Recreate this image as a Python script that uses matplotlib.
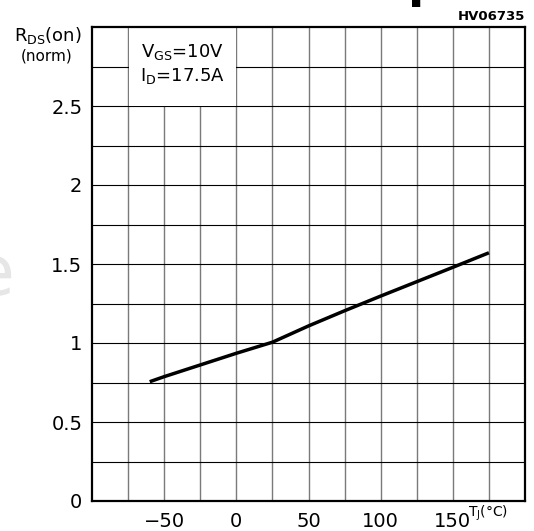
import matplotlib
matplotlib.use('Agg')
import matplotlib.pyplot as plt
from matplotlib.patches import Rectangle

# data
temps = [-60, -50, -25, 0, 25, 50, 75, 100, 125, 150, 175]
rds_norm = [0.755, 0.787, 0.861, 0.935, 1.005, 1.108, 1.204, 1.297, 1.388, 1.479, 1.571]

x_ticks = [-50, 0, 50, 100, 150]
y_ticks = [0, 0.5, 1, 1.5, 2, 2.5]
y_tick_labels = ['0', '0.5', '1', '1.5', '2', '2.5']

plt.rcParams['font.family'] = ['DejaVu Sans']
plt.rcParams['mathtext.default'] = 'regular'

fig = plt.figure(figsize=(5.34, 5.31), dpi=100)
W, H = 534, 531
ax = fig.add_axes([92 / W, 1 - 501 / H, (525 - 92) / W, (501 - 27) / H])

ax.set_xlim(-100, 200)
ax.set_ylim(0, 3)

# grid: every 25 degC and every 0.25
for xv in range(-75, 200, 25):
    ax.axvline(xv, color='#7a7a7a', lw=1.0, zorder=1)
for k in range(1, 12):
    ax.axhline(k * 0.25, color='black', lw=0.8, zorder=1)

# white box for the test conditions
ax.add_patch(Rectangle((-74.6, 2.503), 74.2, 0.6, facecolor='white',
                       edgecolor='none', zorder=2))
ax.text(-37.5, 2.84, r'$V_{GS}$=10V', ha='center', va='center', fontsize=13, zorder=3)
ax.text(-37.5, 2.69, r'$I_{D}$=17.5A', ha='center', va='center', fontsize=13, zorder=3)

ax.plot(temps, rds_norm, color='black', lw=2.5, solid_capstyle='butt', zorder=4)

ax.set_xticks(x_ticks)
ax.set_xticklabels(['\u221250', '0', '50', '100', '150'])
ax.set_yticks(y_ticks)
ax.set_yticklabels(y_tick_labels)
ax.tick_params(length=0, labelsize=14)
ax.tick_params(axis='x', pad=8)
ax.tick_params(axis='y', pad=7)

for sp in ax.spines.values():
    sp.set_linewidth(1.6)
    sp.set_color('black')

# axis captions
fig.text(48 / W, 1 - 35 / H, r'$R_{DS}$(on)', ha='center', va='center', fontsize=13)
fig.text(47 / W, 1 - 56 / H, '(norm)', ha='center', va='center', fontsize=11)
fig.text(468 / W, 1 - 513 / H, r'$T_J$(°C)', ha='left', va='center', fontsize=10)
fig.text(525 / W, 1 - 17 / H, 'HV06735', ha='right', va='center', fontsize=9.5,
         fontweight='bold')

# cut-off title and watermark fragments
fig.text(408 / W, 1 + 3 / H, 'p', ha='left', va='baseline', fontsize=34, fontweight='bold')
fig.text(14 / W, 1 - 276 / H, 'e', ha='right', va='center', fontsize=50,
         color='#e6e6e6')

fig.savefig('out.png', dpi=100)
